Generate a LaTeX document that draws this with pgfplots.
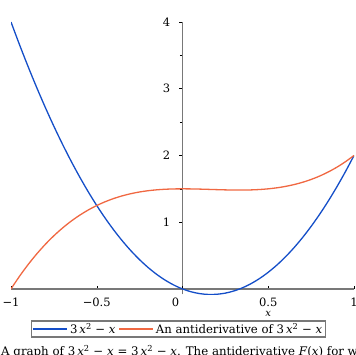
\documentclass[border=0pt]{standalone}
\usepackage{pgfplots}
\pgfplotsset{compat=1.18}
\usepackage{fontspec}
\setmainfont{DejaVu Serif}
\definecolor{cblue}{RGB}{20,78,200}
\definecolor{corange}{RGB}{240,104,66}
\definecolor{axgray}{RGB}{120,120,120}
\newcommand{\ex}{3\,\textit{x}\textsuperscript{2} − \textit{x}}
\begin{document}
\begin{tikzpicture}[x=1pt,y=1pt]
\path[use as bounding box] (0,0) rectangle (355,355);
\clip (0,0) rectangle (355,355);
\begin{axis}[
  scale only axis, width=343pt, height=272.5pt,
  at={(11pt,60.5pt)}, anchor=south west,
  xmin=-1, xmax=1, ymin=-0.0833, ymax=4,
  enlargelimits=false, clip mode=individual,
  axis lines=middle,
  axis line style={-, axgray, line width=1.3pt},
  xtick={-1,-0.5,0.5,1},
  xticklabels={−1,−0.5,0.5,1},
  extra x ticks={0}, extra x tick labels={0},
  extra x tick style={tick label style={xshift=-7pt}},
  ytick={1,2,3,4},
  yticklabels={1,2,3,4},
  minor x tick num=9, minor y tick num=1,
  tick align=center,
  major tick length=3.5pt, minor tick length=2pt,
  tick style={black, line width=0.5pt},
  x tick style={yshift=1.5pt},
  y tick style={xshift=-1.6pt},
  xticklabel style={yshift=-4pt, font=\fontsize{11.5}{13}\selectfont},
  yticklabel style={xshift=-7pt, font=\fontsize{11.5}{13}\selectfont},
  legend columns=2,
  legend style={at={(0.4883,-0.1266)}, anchor=center, draw=axgray, line width=1.3pt,
    inner xsep=1pt, inner ysep=0pt, font=\fontsize{11.7}{13.5}\selectfont,
    /tikz/every even column/.append style={column sep=1pt}},
  legend image code/.code={\draw[#1, line width=1.3pt] (0pt,0pt) -- (34pt,0pt);},
]
\addplot[cblue, line width=1.3pt, smooth] coordinates {
(-1,4) (-0.95,3.6575) (-0.9,3.33) (-0.85,3.0175) (-0.8,2.72) (-0.75,2.4375)
(-0.7,2.17) (-0.65,1.9175) (-0.6,1.68) (-0.55,1.4575) (-0.5,1.25) (-0.45,1.0575)
(-0.4,0.88) (-0.35,0.7175) (-0.3,0.57) (-0.25,0.4375) (-0.2,0.32) (-0.15,0.2175)
(-0.1,0.13) (-0.05,0.0575) (0,0) (0.05,-0.0425) (0.1,-0.07) (0.15,-0.0825)
(0.2,-0.08) (0.25,-0.0625) (0.3,-0.03) (0.35,0.0175) (0.4,0.08) (0.45,0.1575)
(0.5,0.25) (0.55,0.3575) (0.6,0.48) (0.65,0.6175) (0.7,0.77) (0.75,0.9375)
(0.8,1.12) (0.85,1.3175) (0.9,1.53) (0.95,1.7575) (1,2)
};
\addlegendentry{\ex}
\addplot[corange, line width=1.3pt, smooth] coordinates {
(-1,0) (-0.95,0.191375) (-0.9,0.366) (-0.85,0.524625) (-0.8,0.668) (-0.75,0.796875)
(-0.7,0.912) (-0.65,1.014125) (-0.6,1.104) (-0.55,1.182375) (-0.5,1.25) (-0.45,1.307625)
(-0.4,1.356) (-0.35,1.395875) (-0.3,1.428) (-0.25,1.453125) (-0.2,1.472) (-0.15,1.485375)
(-0.1,1.494) (-0.05,1.498625) (0,1.5) (0.05,1.498875) (0.1,1.496) (0.15,1.492125)
(0.2,1.488) (0.25,1.484375) (0.3,1.482) (0.35,1.481625) (0.4,1.484) (0.45,1.489875)
(0.5,1.5) (0.55,1.515125) (0.6,1.536) (0.65,1.563375) (0.7,1.598) (0.75,1.640625)
(0.8,1.692) (0.85,1.752875) (0.9,1.824) (0.95,1.906125) (1,2)
};
\addlegendentry{An antiderivative of \ex}
\node[font=\fontsize{10}{12}\selectfont] at (axis cs:0.5,0) [yshift=-24.5pt] {\textit{x}};
\end{axis}
\node[anchor=base west, inner sep=0pt, font=\fontsize{11.8}{14}\selectfont] at (1,-0.5)
  {A graph of \ex{} = \ex. The antiderivative \textit{F}(\textit{x}) for which \textit{F}(1) = 2 is shown.};
\end{tikzpicture}
\end{document}
